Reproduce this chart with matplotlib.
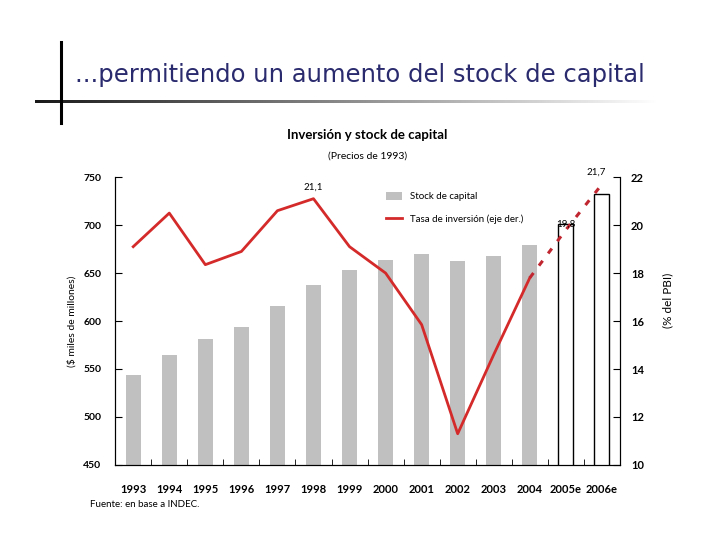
import numpy as np
import matplotlib
matplotlib.use("Agg")
import matplotlib.pyplot as plt
from matplotlib.patches import Patch
from matplotlib.lines import Line2D

# data
years = ['1993', '1994', '1995', '1996', '1997', '1998', '1999', '2000',
         '2001', '2002', '2003', '2004', '2005e', '2006e']
stock = [544, 565, 581, 594, 616, 638, 653, 664, 670, 663, 668, 679, 701, 732]
tasa = [19.1, 20.5, 18.35, 18.9, 20.6, 21.1, 19.1, 18.0, 15.85, 11.3,
        14.6, 17.8]
tasa_est = [17.8, 19.8, 21.7]   # 2004 -> 2006e (estimated)

left_ticks = [450, 500, 550, 600, 650, 700, 750]
right_ticks = [10, 12, 14, 16, 18, 20, 22]

plt.rcParams['font.family'] = ['Lato', 'DejaVu Sans']

fig = plt.figure(figsize=(7.2, 5.4), dpi=100)

# slide decoration in pixel coords
deco = fig.add_axes([0, 0, 1, 1], zorder=-1)
deco.plot([61, 61], [42, 123], color='black', lw=2.2)
grad = np.linspace(0.1, 1.0, 256)[None, :]
deco.imshow(grad, cmap='gray', vmin=0, vmax=1, aspect='auto',
            extent=(35, 660, 103.5, 100.5), interpolation='bilinear')
deco.set_xlim(0, 720)
deco.set_ylim(540, 0)
deco.axis('off')

fig.text(0.104, 0.862, '...permitiendo un aumento del stock de capital',
         fontsize=17.5, color='#2a2a6e', family=['DejaVu Sans'], va='center')
fig.text(0.51, 0.75, 'Inversión y stock de capital', fontsize=9.5,
         fontweight='bold', ha='center', va='center')
fig.text(0.51, 0.711, '(Precios de 1993)', fontsize=7.5, ha='center', va='center')
fig.text(0.125, 0.065, 'Fuente: en base a INDEC.', fontsize=7, va='center')

ax = fig.add_axes([0.160, 0.139, 0.701, 0.533])
x = np.arange(len(years))
n_real = 12
ax.bar(x[:n_real], stock[:n_real], width=0.42, color='#c0c0c0', zorder=1)
ax.bar(x[n_real:], stock[n_real:], width=0.42, color='white',
       edgecolor='black', linewidth=1.0, zorder=1)
ax.set_xlim(-0.5, len(years) - 0.5)
ax.set_ylim(450, 750)
ax.set_yticks(left_ticks)
ax.set_xticks(x)
ax.set_xticklabels(years)
ax.set_xticks(np.arange(0.5, len(years) - 1, 1), minor=True)
ax.tick_params(axis='x', which='major', length=0, pad=14, labelsize=8)
ax.tick_params(axis='x', which='minor', direction='in', length=4)
ax.tick_params(axis='y', direction='in', length=5, labelsize=7.5, pad=10)
for lab in ax.get_xticklabels() + ax.get_yticklabels():
    lab.set_fontweight('bold')
ax.spines['top'].set_visible(False)
ax.set_ylabel('($ miles de millones)', fontsize=7.5)
ax.yaxis.set_label_coords(-0.077, 0.5)

ax2 = ax.twinx()
ax2.plot(x[:n_real], tasa, color='#d42a2a', lw=2, zorder=3)
ax2.plot(x[n_real - 1:], tasa_est, color='#c0262f', lw=2.2,
         linestyle=(0, (2, 3)), zorder=3)
ax2.set_ylim(10, 22)
ax2.set_yticks(right_ticks)
ax2.tick_params(axis='y', direction='in', length=5, labelsize=8, pad=8)
for lab in ax2.get_yticklabels():
    lab.set_fontweight('bold')
ax2.spines['top'].set_visible(False)
ax2.set_ylabel('(% del PBI)', fontsize=8.5)
ax2.yaxis.set_label_coords(1.083, 0.573)

ax2.text(x[5], tasa[5] + 0.3, '21,1', fontsize=7, ha='center', va='bottom')
ax2.text(x[12], tasa_est[1] + 0.05, '19,8', fontsize=7, ha='center', va='bottom')
ax2.text(x[13] - 0.15, tasa_est[2] + 0.3, '21,7', fontsize=7, ha='center', va='bottom')

handles = [Patch(facecolor='#c0c0c0', edgecolor='none'),
           Line2D([0], [0], color='#d42a2a', lw=2)]
ax2.legend(handles, ['Stock de capital', 'Tasa de inversión (eje der.)'],
           loc='upper left', bbox_to_anchor=(0.52, 0.98), frameon=False,
           fontsize=7, handlelength=1.6, labelspacing=1.4, handleheight=0.9)

fig.savefig('out.png', dpi=100)
